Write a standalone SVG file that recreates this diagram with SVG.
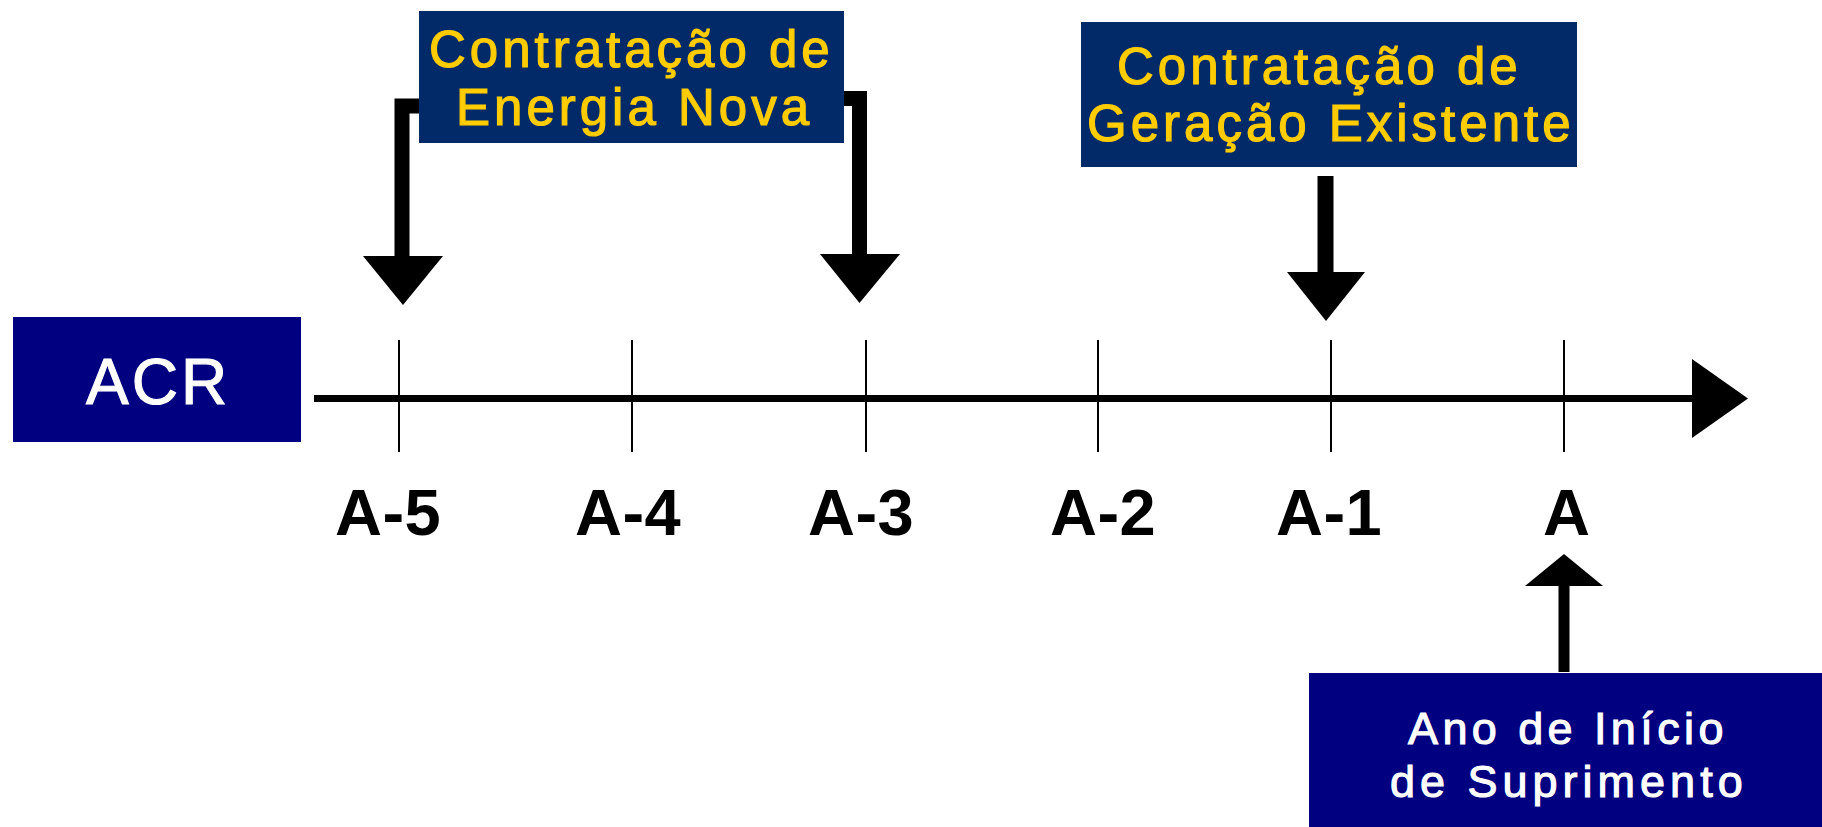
<svg xmlns="http://www.w3.org/2000/svg" width="1822" height="827" viewBox="0 0 1822 827">
<style>
.lbl{font-family:"Liberation Sans",Arial,sans-serif;font-weight:bold;fill:#000;font-size:65px;letter-spacing:0.5px}
.ylw{font-family:"Liberation Sans",Arial,sans-serif;font-weight:normal;fill:#FFCC00;stroke:#FFCC00;stroke-width:1.2px;font-size:51px;letter-spacing:4px}
.wht{font-family:"Liberation Sans",Arial,sans-serif;font-weight:normal;fill:#FFFFFF;stroke:#FFFFFF;stroke-width:1.1px}
.blue1{fill:#022A68}
.navy{fill:#000080}
.tick{stroke:#000;stroke-width:2}
.thick{stroke:#000;fill:none;stroke-linejoin:miter;stroke-linecap:butt}
.head{fill:#000}
</style>
<rect width="1822" height="827" fill="#fff"/>
<g id="connectors">
  <line x1="314" y1="398.5" x2="1694" y2="398.5" stroke="#000" stroke-width="7"/>
  <polygon class="head" points="1692,359 1748,398.5 1692,438"/>
  <line class="tick" x1="399" y1="340" x2="399" y2="452"/>
  <line class="tick" x1="632" y1="340" x2="632" y2="452"/>
  <line class="tick" x1="866" y1="340" x2="866" y2="452"/>
  <line class="tick" x1="1098" y1="340" x2="1098" y2="452"/>
  <line class="tick" x1="1331" y1="340" x2="1331" y2="452"/>
  <line class="tick" x1="1564" y1="340" x2="1564" y2="452"/>
  <path class="thick" stroke-width="15" d="M420,106 H402 V258"/>
  <polygon class="head" points="363,256 443,256 403,305"/>
  <path class="thick" stroke-width="15" d="M843,98.5 H859.5 V256"/>
  <polygon class="head" points="820,254 900,254 859.5,303"/>
  <line x1="1325.5" y1="176" x2="1325.5" y2="274" stroke="#000" stroke-width="16"/>
  <polygon class="head" points="1287,272 1365,272 1326,321"/>
  <line x1="1564" y1="584" x2="1564" y2="672" stroke="#000" stroke-width="11"/>
  <polygon class="head" points="1525,586 1603,586 1564,554"/>
</g>
<g id="acr">
  <rect class="navy" x="13" y="317" width="288" height="125"/>
  <text class="wht" x="86" y="404" font-size="64" letter-spacing="3">ACR</text>
</g>
<g id="energia-nova">
  <rect class="blue1" x="419" y="11" width="425" height="132"/>
  <text class="ylw" x="429" y="67">Contratação de</text>
  <text class="ylw" x="456" y="125">Energia Nova</text>
</g>
<g id="geracao-existente">
  <rect class="blue1" x="1081" y="22" width="496" height="145"/>
  <text class="ylw" x="1117" y="84">Contratação de</text>
  <text class="ylw" x="1087" y="141">Geração Existente</text>
</g>
<g id="labels">
  <text class="lbl" x="335" y="535">A-5</text>
  <text class="lbl" x="575" y="535">A-4</text>
  <text class="lbl" x="808" y="535">A-3</text>
  <text class="lbl" x="1050" y="535">A-2</text>
  <text class="lbl" x="1276" y="535">A-1</text>
  <text class="lbl" x="1543" y="535">A</text>
</g>
<g id="inicio">
  <rect class="navy" x="1309" y="673" width="513" height="154"/>
  <text class="wht" x="1408" y="744" font-size="45" letter-spacing="4.4">Ano de Início</text>
  <text class="wht" x="1390" y="797" font-size="45" letter-spacing="5">de Suprimento</text>
</g>
</svg>
